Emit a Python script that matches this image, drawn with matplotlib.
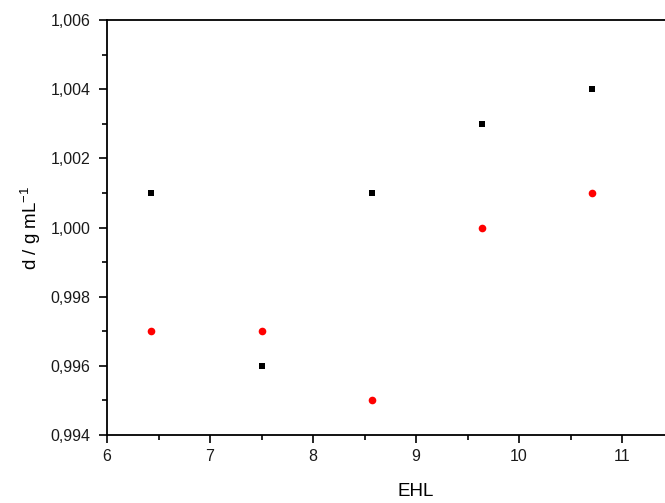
import matplotlib
matplotlib.use("Agg")
import matplotlib.pyplot as plt
from matplotlib.ticker import FixedLocator, MultipleLocator, FuncFormatter

plt.rcParams['font.family'] = ['Liberation Sans', 'DejaVu Sans']

ehl = [6.43, 7.5, 8.57, 9.64, 10.71]
d_black = [1.001, 0.996, 1.001, 1.003, 1.004]
d_red = [0.997, 0.997, 0.995, 1.000, 1.001]

W, H = 665, 503
fig = plt.figure(figsize=(W / 100, H / 100), dpi=100)
# axis runs 6..12 but the right part falls outside the canvas
ax = fig.add_axes([107 / W, (H - 435) / H, 618 / W, 415 / H])

ax.plot(ehl, d_black, 's', color='black', markersize=5, markeredgewidth=0)
ax.plot(ehl, d_red, 'o', color='red', markersize=5.5, markeredgewidth=0)

ax.set_xlim(6, 12)
ax.set_ylim(0.994, 1.006)
ax.xaxis.set_major_locator(FixedLocator([6, 7, 8, 9, 10, 11]))
ax.xaxis.set_minor_locator(FixedLocator([6.5, 7.5, 8.5, 9.5, 10.5]))
ax.yaxis.set_major_locator(MultipleLocator(0.002))
ax.yaxis.set_minor_locator(MultipleLocator(0.001))
ax.yaxis.set_major_formatter(FuncFormatter(lambda v, p: f"{v:.3f}".replace('.', ',')))

ax.tick_params(which='major', direction='out', length=6, width=1.2, labelsize=11.5,
               labelcolor='#1a1a1a')
ax.tick_params(axis='y', which='major', pad=6)
ax.tick_params(axis='x', which='major', pad=4)
ax.tick_params(which='minor', direction='out', length=3.5, width=1.2)
ax.tick_params(top=False, right=False, which='both')
for s in ax.spines.values():
    s.set_linewidth(1.3)
ax.spines['right'].set_visible(False)

ax.set_xlabel('EHL', fontsize=13.5, labelpad=14)
ax.set_ylabel('d / g mL$^{\\mathregular{-1}}$', fontsize=13.5, labelpad=5)

fig.savefig('out.png', dpi=100)
